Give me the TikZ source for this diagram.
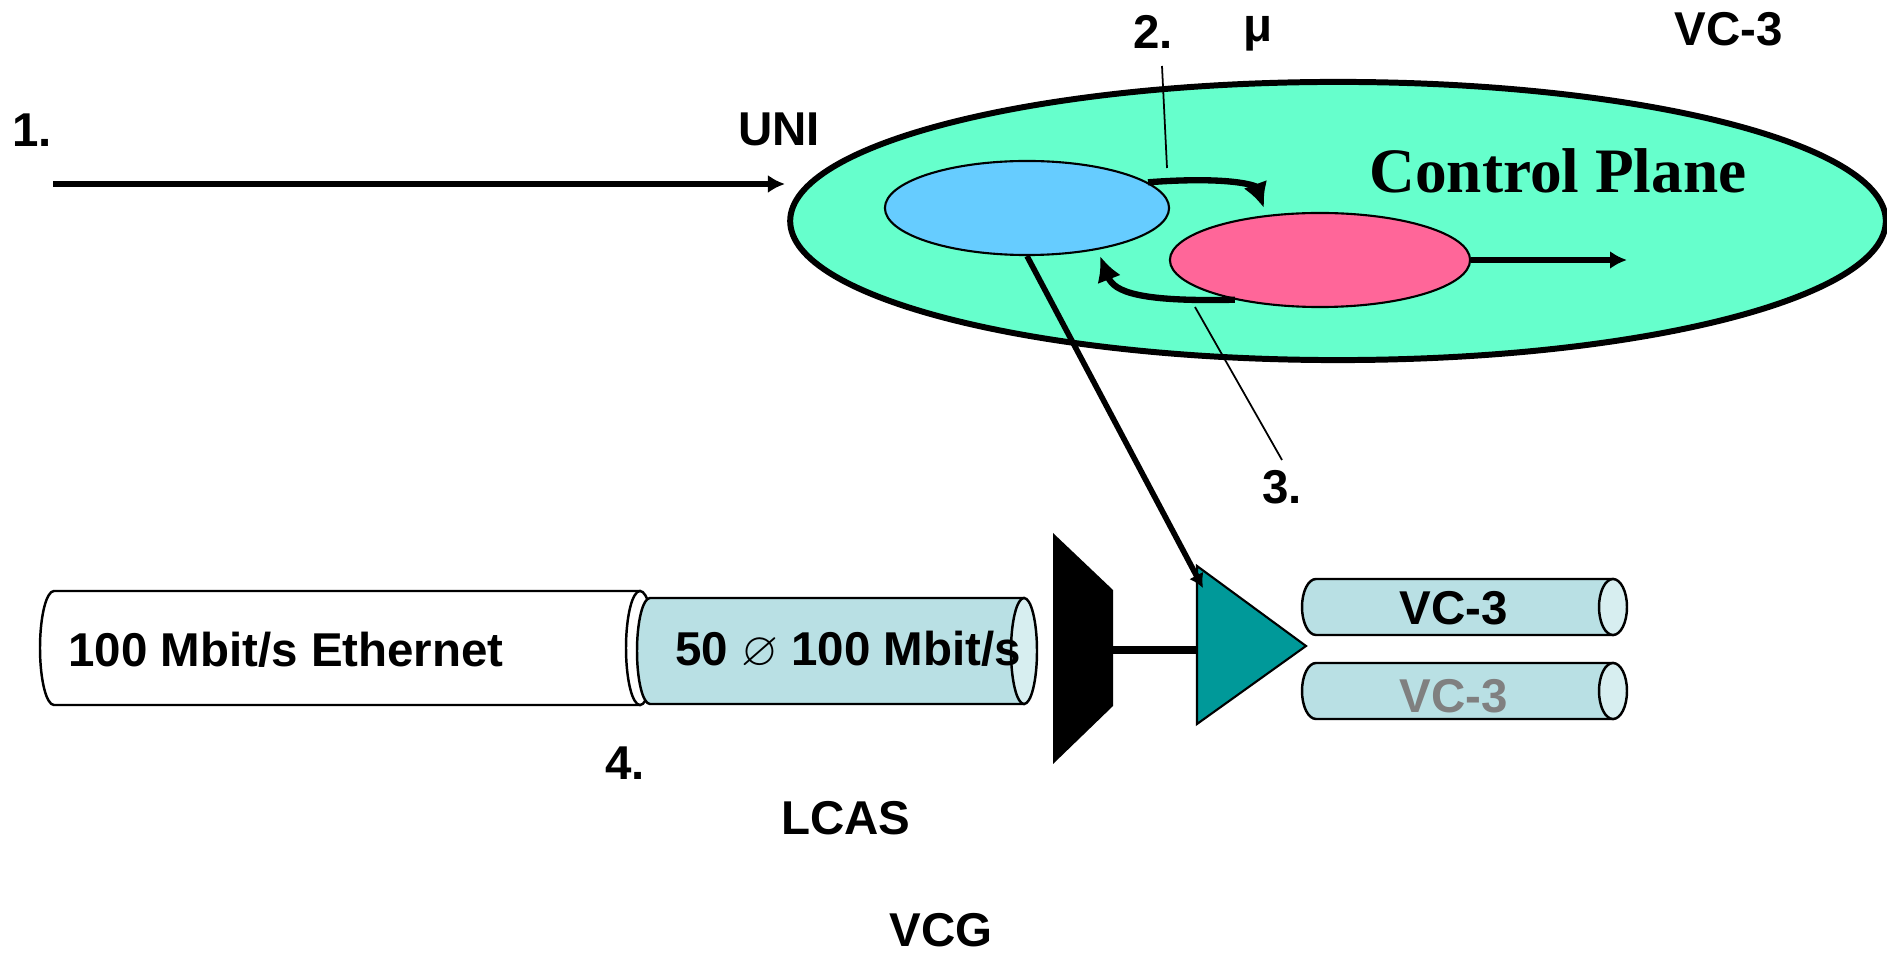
\documentclass[tikz,border=0pt]{standalone}
\usepackage{amsmath}
\usepackage{amssymb}
\usepackage{fontspec}
\setmainfont{Liberation Sans}
\newfontfamily\serifbold{Liberation Serif}
\usepackage{tikz}
\usetikzlibrary{arrows.meta,shapes.geometric}
\usepackage{xcolor}
\tikzset{>={Latex[length=0.17cm,width=0.18cm]}}
\definecolor{planegreen}{HTML}{66FFCC}
\definecolor{skyblue}{HTML}{66CCFF}
\definecolor{rosepink}{HTML}{FF6699}
\definecolor{tealtri}{HTML}{009999}
\definecolor{pipeblue}{HTML}{B9E0E4}
\definecolor{pipeend}{HTML}{D7EEF0}
\definecolor{greytext}{HTML}{808080}

% pipe: left x, right x, mid y, half height, end radius, body fill, face fill
\newcommand{\pipe}[7]{%
  \filldraw[fill=#6, line width=0.7pt] (#1,#3-#4) -- (#2,#3-#4) -- (#2,#3+#4) -- (#1,#3+#4)
    arc[start angle=90, end angle=270, x radius=#5, y radius=#4] -- cycle;
  \filldraw[fill=#7, line width=0.7pt] (#2,#3) ellipse[x radius=#5, y radius=#4];
}

\begin{document}
\begin{tikzpicture}[x=0.01cm, y=-0.01cm]
                        % pixel grid, y runs downwards
                        \tikzstyle{every node}=[font=\fontsize{13.5}{16}\selectfont\bfseries, inner sep=0pt]
                        \tikzstyle{blob}=[ellipse, draw=black]
                        \tikzstyle{pointer}=[black, line width=0.5pt]
                        \tikzstyle{hop}=[-{Latex[length=0.25cm,width=0.25cm]}, line width=1.8pt]
                        \useasboundingbox (0,0) rectangle (1887,955);

                        \node[blob, fill=planegreen, line width=1.7pt, minimum width=10.95cm, minimum height=2.78cm] (plane) at (1338,221) {};
                        \node[blob, fill=skyblue, line width=0.6pt, minimum width=2.84cm, minimum height=0.94cm] (mgmt) at (1027,208) {};
                        \node[blob, fill=rosepink, line width=0.6pt, minimum width=3.0cm, minimum height=0.94cm] (ctrl) at (1320,260) {};
                        \node[font=\serifbold\fontsize{18}{20}\selectfont\bfseries] (title) at (1558,171) {Control Plane};

                        \node (one) at (32,130) {1.};
                        \node (uni) at (779,129) {UNI};
                        \node (two) at (1153,32) {2.};
                        \node (mu) at (1258,34) {μ};
                        \node (vcnote) at (1729,29) {VC-3};
                        \node (three) at (1282,487) {3.};
                        \node (four) at (625,763) {4.};
                        \node (lcas) at (846,818) {LCAS};
                        \node (vcg) at (941,930) {VCG};

                        \coordinate (feed) at (53,184);
                        \coordinate (feedend) at (785,184);
                        \draw[->, line width=1.45pt] (feed) -- (feedend);

                        \coordinate (hopin) at (1264,208);
                        \coordinate (hopback) at (1100,256);
                        \coordinate (outend) at (1627,260);
                        \draw[hop] (mgmt.12) .. controls (1232,176) and (1256,186) .. (hopin);
                        \draw[hop] (ctrl.205) .. controls (1140,302) and (1114,292) .. (hopback);
                        \draw[->, line width=1.5pt] (ctrl.east) -- (outend);

                        \coordinate (twotip) at (1162,66);
                        \coordinate (twofoot) at (1167,168);
                        \draw[pointer] (twotip) -- (twofoot);
                        \coordinate (threefoot) at (1195,307);
                        \coordinate (threetip) at (1282,460);
                        \draw[pointer] (threefoot) -- (threetip);

                        % pipes
                        \pipe{54}{640}{648}{57}{14}{white}{white}
                        \pipe{650}{1024}{651}{53}{13}{pipeblue}{pipeend}
                        \pipe{1316}{1613}{607}{28}{14}{pipeblue}{pipeend}
                        \pipe{1316}{1613}{691}{28}{14}{pipeblue}{pipeend}
                        \node (eth) at (286,650) {100 Mbit/s Ethernet};
                        \node (rate) at (848,650) {50 $\varnothing$ 100 Mbit/s};
                        \node (vcone) at (1454,608) {VC-3};
                        \node[text=greytext] (vctwo) at (1454,696) {VC-3};

                        % mux and splitter
                        \coordinate (ma) at (1053,533);
                        \coordinate (mb) at (1113,590);
                        \coordinate (mc) at (1113,706);
                        \coordinate (md) at (1053,764);
                        \fill[black] (ma) -- (mb) -- (mc) -- (md) -- cycle;
                        \coordinate (ta) at (1197,566);
                        \coordinate (tb) at (1197,724);
                        \coordinate (tc) at (1306,646);
                        \filldraw[fill=tealtri, line width=0.6pt] (ta) -- (tc) -- (tb) -- cycle;
                        \coordinate (muxout) at (1113,650);
                        \coordinate (triin) at (1197,650);
                        \draw[line width=2.3pt] (muxout) -- (triin);

                        \coordinate (tritop) at (1203,588);
                        \draw[-{Latex[length=0.14cm,width=0.16cm]}, line width=1.6pt] (mgmt.south) -- (tritop);
                \end{tikzpicture}
\end{document}
